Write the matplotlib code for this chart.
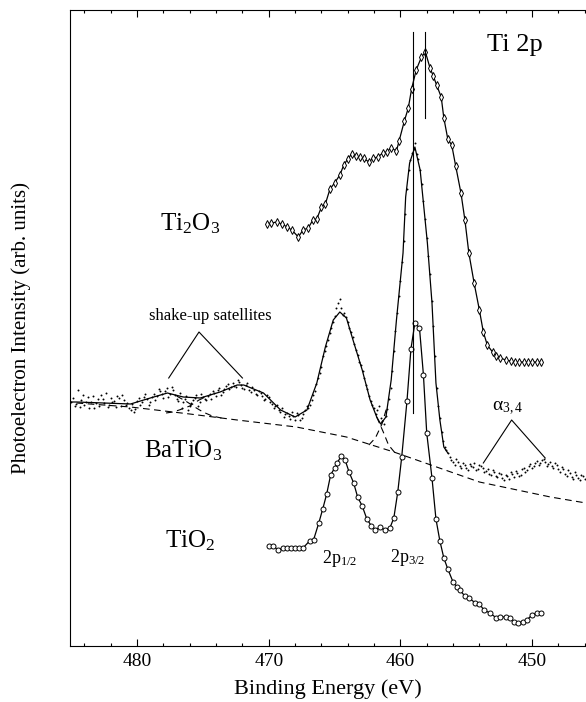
import numpy as np
import matplotlib
matplotlib.use('Agg')
import matplotlib.pyplot as plt

plt.rcParams['font.family'] = ['Liberation Serif', 'DejaVu Serif']
plt.rcParams['mathtext.fontset'] = 'custom'
plt.rcParams['mathtext.rm'] = 'Liberation Serif'
plt.rcParams['mathtext.it'] = 'Liberation Serif:italic'

# Ti2O3 spectrum (binding energy eV, intensity arb. units)
ti2o3_E = [470.1, 469.8, 469.4, 469.0, 468.6, 468.25, 467.75, 467.4, 467.0, 466.65,
           466.35, 466.0, 465.7, 465.35, 465.0, 464.6, 464.3, 464.0, 463.7, 463.4,
           463.1, 462.8, 462.4, 462.05, 461.7, 461.35, 461.05, 460.7, 460.3, 460.1,
           459.7, 459.4, 459.15, 458.8, 458.4, 458.1, 457.75, 457.5, 457.25, 456.9,
           456.7, 456.4, 456.1, 455.8, 455.4, 455.1, 454.8, 454.4, 454.0, 453.7,
           453.4, 453.0, 452.7, 452.4, 452.0, 451.6, 451.3, 451.0, 450.6, 450.3,
           450.0, 449.65, 449.3]
ti2o3_I = [422, 423, 424, 422, 419, 416, 409, 416, 418, 426,
           427, 439, 442, 457, 463, 471, 481, 487, 492, 490,
           489, 488, 484, 488, 489, 493, 494, 498, 495, 505,
           525, 538, 557, 576, 589, 594, 578, 570, 561, 549,
           528, 507, 501, 480, 453, 426, 393, 363, 336, 314,
           301, 294, 290, 288, 286, 285, 284, 284, 284, 284,
           284, 284, 284]

# TiO2 spectrum
tio2_E = [470.0, 469.65, 469.3, 468.9, 468.6, 468.3, 468.0, 467.7, 467.4, 466.9,
          466.6, 466.2, 465.9, 465.6, 465.3, 465.0, 464.8, 464.5, 464.2, 463.9,
          463.55, 463.25, 462.9, 462.55, 462.2, 461.9, 461.55, 461.2, 460.8, 460.5,
          460.2, 459.9, 459.5, 459.2, 458.9, 458.55, 458.25, 458.0, 457.6, 457.3,
          457.0, 456.7, 456.4, 456.0, 455.7, 455.5, 455.1, 454.8, 454.3, 454.0,
          453.65, 453.2, 452.7, 452.4, 452.0, 451.7, 451.4, 451.05, 450.7, 450.4,
          450.0, 449.65, 449.3]
tio2_I = [100, 100, 96, 98, 98, 98, 98, 98, 98, 105,
          106, 123, 137, 152, 171, 178, 183, 190, 186, 174,
          163, 149, 140, 127, 120, 116, 119, 116, 118, 128,
          154, 189, 245, 297, 323, 318, 271, 213, 168, 127,
          105, 88, 77, 64, 59, 56, 50, 48, 43, 42,
          36, 33, 28, 29, 29, 28, 24, 23, 24, 26,
          31, 33, 33]

# BaTiO3 raw data (dots), scan 1: every 0.25 eV from 485 eV down to 446 eV
bto_I = [244, 240, 256, 246, 241, 249, 244, 238, 247, 251,
         243, 239, 248, 245, 250, 240, 246, 243, 236, 234,
         245, 241, 249, 247, 244, 252, 250, 255, 248, 258,
         252, 256, 247, 253, 244, 250, 240, 246, 251, 244,
         249, 246, 252, 255, 250, 258, 254, 260, 257, 263,
         259, 264, 258, 261, 256, 259, 252, 255, 250, 247,
         249, 242, 240, 236, 238, 232, 230, 234, 226, 231,
         228, 236, 238, 246, 255, 268, 279, 295, 306, 318,
         330, 343, 338, 333, 324, 314, 302, 291, 281, 268,
         257, 245, 238, 236, 228, 222, 237, 258, 295, 333,
         365, 405, 457, 486, 497, 492, 476, 445, 408, 372,
         320, 258, 228, 205, 196, 189, 184, 187, 180, 183,
         178, 182, 179, 176, 181, 178, 175, 172, 176, 170,
         173, 168, 171, 167, 172, 175, 170, 177, 174, 180,
         178, 183, 181, 186, 184, 182, 180, 183, 177, 179,
         172, 176, 169, 174, 168, 171, 167]
bto_E = np.linspace(485.0, 446.0, len(bto_I))

# scan 2: shifted by half a step, 484.875 eV down to 446.125 eV
bto2_I = [248, 242, 239, 251, 244, 238, 250, 243, 240, 247,
          253, 241, 244, 239, 248, 251, 241, 238, 242, 237,
          248, 244, 252, 241, 249, 246, 257, 252, 255, 249,
          259, 251, 245, 238, 247, 236, 243, 248, 240, 252,
          247, 250, 247, 253, 256, 251, 257, 262, 259, 260,
          266, 261, 257, 263, 254, 256, 251, 253, 246, 251,
          244, 238, 241, 234, 229, 233, 227, 230, 233, 226,
          232, 240, 241, 251, 262, 273, 290, 300, 313, 324,
          338, 347, 331, 329, 318, 309, 296, 284, 275, 261,
          250, 241, 232, 240, 225, 230, 247, 275, 315, 350,
          384, 432, 476, 493, 503, 487, 462, 427, 390, 345,
          290, 240, 214, 199, 193, 186, 181, 184, 178, 181,
          176, 180, 183, 177, 180, 174, 177, 171, 174, 169,
          172, 166, 170, 174, 169, 173, 171, 178, 176, 182,
          180, 185, 183, 187, 180, 184, 178, 181, 174, 177,
          170, 173, 167, 171, 166, 170]
bto2_E = np.linspace(484.875, 446.125, len(bto2_I))

# BaTiO3 fit (solid)
fit_E = [485.0, 484.6, 480.5, 479.0, 477.7, 476.5, 475.2, 473.7, 472.4, 471.9,
         470.4, 469.1, 468.0, 467.1, 466.35, 465.7, 465.1, 464.6, 464.1, 463.6,
         462.9, 462.3, 461.8, 461.5, 461.1, 460.7, 460.3, 459.8, 459.6, 459.3,
         458.9, 458.5, 458.25, 457.95, 457.6, 457.3, 457.0, 456.7, 456.4]
fit_I = [244, 244, 242, 248, 253, 249, 248, 254, 261, 261,
         253, 236, 229, 236, 263, 299, 326, 334, 328, 306,
         276, 246, 229, 222, 229, 266, 326, 393, 449, 483,
         499, 476, 443, 403, 343, 263, 226, 199, 193]

# background and component tails (dashed)
bg_E = [484.6, 480.5, 476.0, 472.4, 467.9, 464.1, 460.5, 457.25, 454.0, 448.6, 445.9]
bg_I = [243, 239, 232, 226, 219, 209, 194, 179, 164, 149, 143]
satA_E = [477.0, 476.2, 475.5, 475.0, 474.3, 473.6]
satA_I = [250, 244, 238, 234, 230, 228]
satB_E = [477.8, 477.3, 476.8, 476.0, 475.3, 474.8]
satB_I = [233, 234, 236, 240, 246, 249]
p12_E = [461.8, 461.3, 460.9, 460.4]
p12_I = [229, 214, 201, 193]
p32_E = [462.4, 461.9, 461.4, 461.0]
p32_I = [201, 208, 222, 240]

# peak markers
vline_E = [459.05, 458.1]
vline_lo = [233, 528]
vline_top = 614

fig = plt.figure(figsize=(5.86, 7.02), dpi=100)
ax = fig.add_axes([70 / 586, 56 / 702, 516 / 586, 636 / 702])

lw = 0.9
ax.plot(ti2o3_E, ti2o3_I, '-', color='black', lw=lw, marker='d', markersize=3.6,
        mfc='white', mec='black', mew=0.7)
ax.plot(tio2_E, tio2_I, '-', color='black', lw=lw, marker='o', markersize=3.6,
        mfc='white', mec='black', mew=0.7)
ax.plot(bto_E, bto_I, 'o', color='black', markersize=1.4, mew=0)
ax.plot(bto2_E, bto2_I, 'o', color='black', markersize=1.4, mew=0)
ax.plot(fit_E, fit_I, '-', color='black', lw=lw)
dash = (0, (6, 4))
for xs, ys in [(bg_E, bg_I), (satA_E, satA_I), (satB_E, satB_I), (p12_E, p12_I), (p32_E, p32_I)]:
    ax.plot(xs, ys, color='black', lw=0.8, linestyle=dash)
for e, lo in zip(vline_E, vline_lo):
    ax.plot([e, e], [lo, vline_top], color='black', lw=0.8)

# annotation brackets
ax.plot([477.6, 475.3, 472.0], [268, 314, 268], color='black', lw=0.8)
ax.plot([453.7, 451.55, 449.0], [183, 226, 188], color='black', lw=0.8)

ax.text(453.4, 595, 'Ti 2p', fontsize=19, ha='left', va='baseline')
ax.text(478.25, 416, r'Ti$_2$O$_3$', fontsize=18, ha='left', va='baseline')
ax.text(479.5, 189, r'BaTiO$_3$', fontsize=18, ha='left', va='baseline')
ax.text(477.9, 99, r'TiO$_2$', fontsize=18, ha='left', va='baseline')
ax.text(465.95, 83, r'2p$_{1/2}$', fontsize=13, ha='left', va='baseline')
ax.text(460.8, 84, r'2p$_{3/2}$', fontsize=13, ha='left', va='baseline')
ax.text(474.45, 326, 'shake-up satellites', fontsize=12, ha='center', va='baseline')
ax.text(453.07, 236, r'α$_{3,4}$', fontsize=14, ha='left', va='baseline')

ax.set_xlim(485.1, 445.9)
ax.set_ylim(0, 636)
ax.set_xticks([480, 470, 460, 450])
ax.set_xticks(np.arange(446, 485, 2), minor=True)
ax.set_yticks([])
ax.tick_params(axis='x', which='both', direction='in', top=True, labelsize=14, pad=5)
ax.tick_params(axis='x', which='major', length=5, width=0.8)
ax.tick_params(axis='x', which='minor', length=2.5, width=0.8)
ax.spines['right'].set_visible(False)
for s in ['left', 'top', 'bottom']:
    ax.spines[s].set_linewidth(0.8)

ax.set_xlabel('Binding Energy (eV)', fontsize=16, labelpad=7)
ax.set_ylabel('Photoelectron Intensity (arb. units)', fontsize=15, labelpad=28)

fig.savefig('out.png', dpi=100)
